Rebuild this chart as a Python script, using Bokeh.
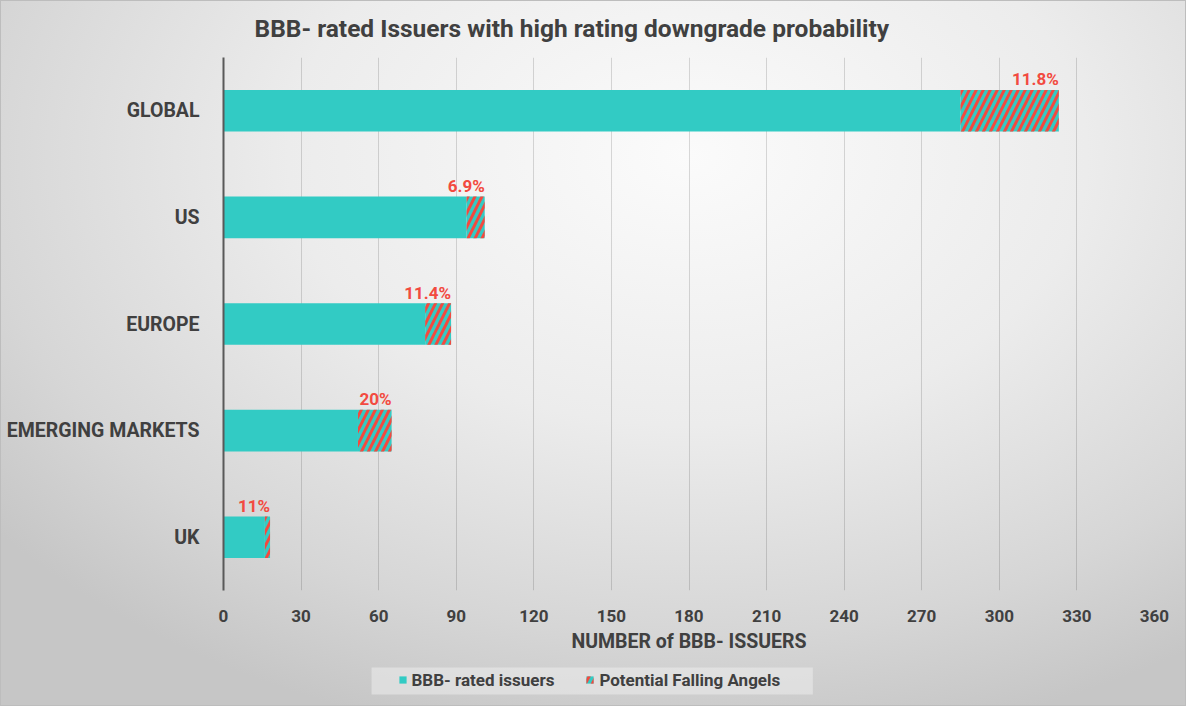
from bokeh.plotting import figure
from bokeh.layouts import column
from bokeh.models import (FactorRange, Range1d, FixedTicker, Legend,
                          LegendItem, ColumnDataSource, BoxAnnotation)
from bokeh.transform import dodge
from bokeh.embed import file_html
from bokeh.resources import INLINE

# ---------------- data ----------------
regions = ["GLOBAL", "US", "EUROPE", "EMERGING MARKETS", "UK"]
bbb_issuers = [285, 94, 78, 52, 16]
falling_angels = [38, 7, 10, 13, 2]
pct_labels = ["11.8%", "6.9%", "11.4%", "20%", "11%"]
x_ticks = [0, 30, 60, 90, 120, 150, 180, 210, 240, 270, 300, 330, 360]

title_text = "BBB- rated Issuers with high rating downgrade probability"
x_title = "NUMBER of BBB- ISSUERS"
series_names = ["BBB- rated issuers", "Potential Falling Angels"]

# ---------------- styles ----------------
TEAL = "#32CBC4"
RED = "#F4493F"
TXT = "#404040"
FONT = "Roboto"
HATCH = dict(hatch_pattern="/", hatch_color=RED, hatch_scale=14, hatch_weight=3.0)

totals = [a + b for a, b in zip(bbb_issuers, falling_angels)]
src = ColumnDataSource(dict(region=regions, base=bbb_issuers,
                            total=totals, pct=pct_labels))

p = figure(width=1184, height=654, output_backend="svg", toolbar_location=None,
           y_range=FactorRange(factors=list(reversed(regions)),
                               range_padding=0, factor_padding=0),
           x_range=Range1d(0, 360),
           min_border_left=222, min_border_right=31,
           min_border_top=54, min_border_bottom=62)
p.background_fill_alpha = 0
p.border_fill_alpha = 0
p.outline_line_color = None

# title
p.title.text = title_text
p.title.align = "left"
p.title.offset = 31
p.title.standoff = 25
p.title.vertical_align = "top"
p.title.text_font = FONT
p.title.text_font_style = "bold"
p.title.text_font_size = "24.5px"
p.title.text_color = TXT

# grid
p.ygrid.grid_line_color = None
p.xgrid.grid_line_color = "black"
p.xgrid.grid_line_alpha = 0.14
p.xgrid.grid_line_width = 1

# x axis
p.xaxis.ticker = FixedTicker(ticks=x_ticks)
p.xaxis.axis_line_color = None
p.xaxis.major_tick_line_color = None
p.xaxis.minor_tick_line_color = None
p.xaxis.major_label_text_font = FONT
p.xaxis.major_label_text_font_style = "bold"
p.xaxis.major_label_text_font_size = "17px"
p.xaxis.major_label_text_color = TXT
p.xaxis.major_label_standoff = 13
p.xaxis.axis_label = x_title
p.xaxis.axis_label_text_font = FONT
p.xaxis.axis_label_text_font_style = "bold"
p.xaxis.axis_label_text_font_size = "19.5px"
p.xaxis.axis_label_text_color = TXT
p.xaxis.axis_label_standoff = 5

# y axis
p.yaxis.axis_line_color = "#595959"
p.yaxis.axis_line_width = 2
p.yaxis.major_tick_line_color = None
p.yaxis.minor_tick_line_color = None
p.yaxis.major_label_text_font = FONT
p.yaxis.major_label_text_font_style = "bold"
p.yaxis.major_label_text_font_size = "19.5px"
p.yaxis.major_label_text_color = TXT
p.yaxis.major_label_standoff = 18

# bars
p.hbar(y="region", left=0, right="base", height=0.39, source=src,
       fill_color=TEAL, line_color=None)
p.hbar(y="region", left="base", right="total", height=0.39, source=src,
       fill_color=TEAL, line_color=None, **HATCH)

# percentage labels
p.text(x="total", y=dodge("region", 0.295, range=p.y_range), text="pct",
       source=src, text_align="right", text_baseline="alphabetic",
       text_color="#F24A40", text_font_size="17px", text_font_style="bold",
       text_font={"value": FONT})

# ---------------- legend strip ----------------
lg = figure(width=1184, height=50, output_backend="svg", toolbar_location=None,
            x_range=Range1d(0, 1), y_range=Range1d(0, 1),
            x_axis_type=None, y_axis_type=None,
            min_border_left=0, min_border_right=0,
            min_border_top=0, min_border_bottom=0)
lg.background_fill_alpha = 0
lg.border_fill_alpha = 0
lg.outline_line_color = None
lg.xgrid.visible = False
lg.ygrid.visible = False
# light legend panel behind the entries
lg.add_layout(BoxAnnotation(left=0.159, right=0.633, bottom=0.22, top=0.76,
                            fill_color="#ececec", fill_alpha=0.55,
                            line_color=None))
# legend proxies (zero-size, outside the strip's range)
proxy = ColumnDataSource(dict(y=[-1], left=[0], right=[0]))
k1 = lg.hbar(y="y", left="left", right="right", height=0.01, source=proxy,
             fill_color=TEAL, line_color=None)
k2 = lg.hbar(y="y", left="left", right="right", height=0.01, source=proxy,
             fill_color=TEAL, line_color=None, **HATCH)
legend = Legend(items=[LegendItem(label=series_names[0], renderers=[k1]),
                       LegendItem(label=series_names[1], renderers=[k2])],
                orientation="horizontal", location=(174.5, 15.5),
                glyph_width=9, glyph_height=9, label_standoff=5, spacing=31,
                padding=6, margin=0,
                label_text_font=FONT, label_text_font_style="bold",
                label_text_font_size="17px", label_text_color=TXT,
                background_fill_alpha=0, border_line_color=None)
lg.add_layout(legend, "center")

layout = column(p, lg, spacing=0, styles={
    "background": "radial-gradient(ellipse 75% 85% at 58% 22%, #fbfbfb 0%, #ececec 45%, #d6d6d6 80%, #c6c6c6 100%)",
    "border": "1px solid #bdbdbd", "box-sizing": "border-box"})

open("out.html", "w").write(file_html(layout, INLINE))
